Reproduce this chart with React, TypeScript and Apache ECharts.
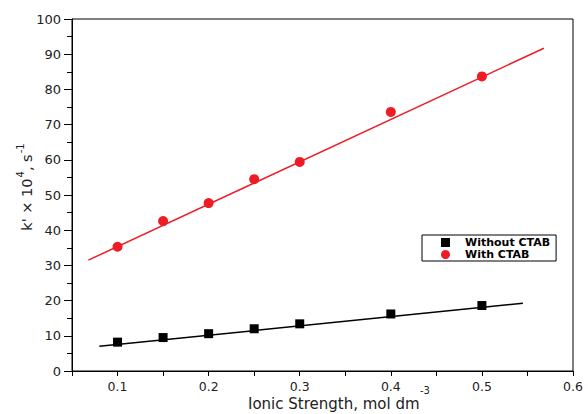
import React, { useEffect, useRef } from "react";
import * as echarts from "echarts";

const ionicStrength = [0.1, 0.15, 0.2, 0.25, 0.3, 0.4, 0.5];
const withoutCTAB = [8.2, 9.5, 10.6, 12.0, 13.4, 16.2, 18.6];
const withCTAB = [35.3, 42.6, 47.7, 54.5, 59.4, 73.6, 83.7];
const fitWithoutX = [0.08, 0.545];
const fitWithoutY = [7.0, 19.25];
const fitWithX = [0.068, 0.568];
const fitWithY = [31.5, 91.7];
const xAxisTitle = "Ionic Strength, mol dm";
const xAxisTitleSup = "-3";

const RED = "#ee1c24";

export default function App() {
  const ref = useRef<HTMLDivElement>(null);
  useEffect(() => {
    if (!ref.current) return;
    const chart = echarts.init(ref.current, undefined, { renderer: "svg" });
    const font = "DejaVu Sans, Verdana, sans-serif";
    chart.setOption({
      animation: false,
      backgroundColor: "#fff",
      textStyle: { fontFamily: font },
      grid: {
        left: 72,
        right: 15,
        top: 19,
        bottom: 43,
        show: true,
        borderColor: "#000",
        borderWidth: 1,
        outerBoundsMode: "none",
        containLabel: false,
      },
      graphic: [
        {
          type: "text",
          left: 248,
          top: 396,
          style: { text: xAxisTitle, fontSize: 15, fontFamily: font, fill: "#222" },
        },
        {
          type: "text",
          left: 420,
          top: 385,
          style: { text: xAxisTitleSup, fontSize: 10, fontFamily: font, fill: "#222" },
        },
      ],
      legend: {
        data: [
          { name: "Without CTAB", icon: "rect" },
          { name: "With CTAB", icon: "circle" },
        ],
        orient: "vertical",
        left: 422,
        top: 235,
        borderColor: "#000",
        borderWidth: 1,
        padding: [2, 6, 1, 19],
        itemGap: 1,
        itemWidth: 9,
        itemHeight: 9,
        textStyle: {
          fontFamily: font,
          fontWeight: "bold",
          fontSize: 11,
          color: "#000",
          padding: [0, 0, 0, 10],
        },
      },
      xAxis: {
        type: "value",
        min: 0.05,
        max: 0.6,
        interval: 0.05,
        axisLine: { onZero: false, lineStyle: { color: "#000", width: 1 } },
        axisTick: { show: true, length: 5, lineStyle: { color: "#000" } },
        splitLine: { show: false },
        axisLabel: {
          fontSize: 12.5,
          color: "#222",
          margin: 9,
          formatter: (v: number) => {
            const r = Math.round(v * 100);
            return r % 10 === 0 ? String(r / 100) : "";
          },
        },
      },
      yAxis: {
        type: "value",
        min: 0,
        max: 100,
        interval: 10,
        name: "{a|k' \u00d7 10}{s|4}{a|, s}{s|-1}",
        nameLocation: "middle",
        nameGap: 38,
        nameMoveOverlap: false,
        nameRotate: 90,
        nameTextStyle: {
          padding: [0, 0, 0, 16],
          rich: {
            a: { fontSize: 14.5, color: "#222", fontFamily: font, verticalAlign: "bottom" },
            s: { fontSize: 10, color: "#222", fontFamily: font, verticalAlign: "bottom", padding: [0, 0, 9, 1] },
          },
        },
        axisLine: { onZero: false, lineStyle: { color: "#000", width: 1 } },
        axisTick: { show: true, length: 8, lineStyle: { color: "#000" } },
        minorTick: { show: true, splitNumber: 2, length: 5, lineStyle: { color: "#000" } },
        splitLine: { show: false },
        axisLabel: {
          fontSize: 13,
          color: "#222",
          margin: 11,
        },
      },
      series: [
        {
          name: "Without CTAB fit",
          type: "line",
          data: fitWithoutX.map((x, i) => [x, fitWithoutY[i]]),
          showSymbol: false,
          symbol: "none",
          lineStyle: { color: "#000", width: 1.5 },
          silent: true,
        },
        {
          name: "With CTAB fit",
          type: "line",
          data: fitWithX.map((x, i) => [x, fitWithY[i]]),
          showSymbol: false,
          symbol: "none",
          lineStyle: { color: RED, width: 1.5 },
          silent: true,
        },
        {
          name: "Without CTAB",
          type: "scatter",
          symbol: "rect",
          symbolSize: 9,
          itemStyle: { color: "#000", opacity: 1 },
          data: ionicStrength.map((x, i) => [x, withoutCTAB[i]]),
        },
        {
          name: "With CTAB",
          type: "scatter",
          symbol: "circle",
          symbolSize: 10,
          itemStyle: { color: RED, opacity: 1 },
          data: ionicStrength.map((x, i) => [x, withCTAB[i]]),
        },
      ],
    });
    return () => chart.dispose();
  }, []);
  return <div ref={ref} style={{ width: 588, height: 414, position: "absolute", left: 0, top: 0 }} />;
}
